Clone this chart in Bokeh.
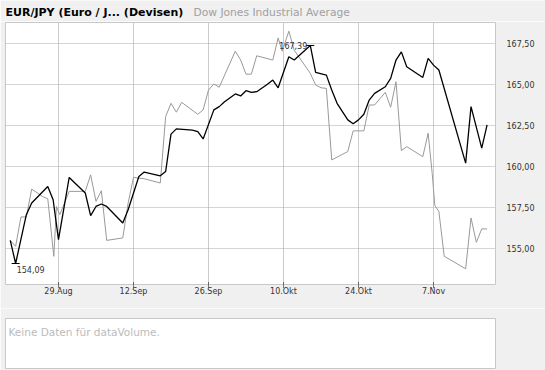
import pandas as pd
from bokeh.plotting import figure
from bokeh.models import Range1d, FixedTicker, Label
from bokeh.layouts import column
from bokeh.embed import file_html
from bokeh.resources import INLINE

# ---- data ----
eur_dates = ["2016-08-20", "2016-08-21", "2016-08-23", "2016-08-24", "2016-08-27", "2016-08-28",
             "2016-08-29", "2016-08-31", "2016-09-03", "2016-09-04", "2016-09-05", "2016-09-06",
             "2016-09-07", "2016-09-10", "2016-09-11", "2016-09-13", "2016-09-14", "2016-09-17",
             "2016-09-18", "2016-09-19", "2016-09-20", "2016-09-23", "2016-09-24", "2016-09-25",
             "2016-09-27", "2016-09-28", "2016-09-29", "2016-10-01", "2016-10-02", "2016-10-03",
             "2016-10-04", "2016-10-05", "2016-10-07", "2016-10-08", "2016-10-09", "2016-10-11",
             "2016-10-12", "2016-10-15", "2016-10-16", "2016-10-18", "2016-10-19", "2016-10-20",
             "2016-10-22", "2016-10-23", "2016-10-24", "2016-10-25", "2016-10-26", "2016-10-27",
             "2016-10-29", "2016-10-30", "2016-10-31", "2016-11-01", "2016-11-02", "2016-11-05",
             "2016-11-06", "2016-11-07", "2016-11-08", "2016-11-13", "2016-11-14", "2016-11-16",
             "2016-11-17"]
eur_values = [155.50, 154.09, 157.07, 157.78, 158.79, 157.98,
              155.55, 159.34, 158.39, 157.01, 157.57, 157.72,
              157.57, 156.56, 157.37, 159.40, 159.67, 159.44,
              159.70, 161.98, 162.30, 162.22, 162.14, 161.69,
              163.46, 163.66, 163.96, 164.43, 164.31, 164.63,
              164.53, 164.57, 165.02, 165.28, 164.81, 166.70,
              166.50, 167.39, 165.75, 165.58, 164.67, 163.86,
              162.85, 162.62, 162.85, 163.19, 164.06, 164.47,
              164.87, 165.38, 166.50, 167.00, 166.09, 165.44,
              166.60, 166.19, 165.89, 160.21, 163.66, 161.13,
              162.54]

dji_dates = ["2016-08-20", "2016-08-21", "2016-08-22", "2016-08-23", "2016-08-24", "2016-08-26",
             "2016-08-27", "2016-08-28 03:00", "2016-08-28 15:00", "2016-08-29 06:00", "2016-08-31",
             "2016-09-03", "2016-09-04", "2016-09-05", "2016-09-06", "2016-09-07", "2016-09-10",
             "2016-09-11", "2016-09-12", "2016-09-14", "2016-09-17", "2016-09-18", "2016-09-19",
             "2016-09-20", "2016-09-21", "2016-09-24", "2016-09-25", "2016-09-26", "2016-09-27",
             "2016-09-28", "2016-10-01", "2016-10-02", "2016-10-03", "2016-10-04", "2016-10-05",
             "2016-10-08", "2016-10-09", "2016-10-09 18:00", "2016-10-11", "2016-10-12",
             "2016-10-15", "2016-10-16", "2016-10-17", "2016-10-18", "2016-10-19", "2016-10-22",
             "2016-10-23", "2016-10-25", "2016-10-26", "2016-10-27", "2016-10-29", "2016-10-30",
             "2016-10-31", "2016-11-01", "2016-11-02", "2016-11-05", "2016-11-06",
             "2016-11-06 18:00", "2016-11-07 06:00", "2016-11-08", "2016-11-09", "2016-11-13",
             "2016-11-14", "2016-11-15", "2016-11-16", "2016-11-17"]
dji_values = [155.50, 155.14, 156.93, 156.93, 158.63, 158.18,
              158.04, 154.53, 157.57, 157.07, 158.49,
              158.49, 159.50, 157.88, 158.53, 155.50, 155.65,
              157.78, 159.34, 159.26, 159.00, 163.05, 163.86,
              163.32, 163.92, 163.19, 163.46, 164.67, 165.04,
              164.84, 167.04, 166.50, 165.64, 165.64, 166.76,
              166.50, 167.85, 167.04, 168.26, 167.10,
              165.69, 164.98, 164.81, 164.77, 160.41, 160.92,
              162.18, 162.18, 163.76, 163.76, 164.53, 163.62,
              165.18, 160.98, 161.22, 160.61, 162.04,
              159.60, 157.62, 157.27, 154.53, 153.77,
              156.87, 155.38, 156.20, 156.20]

x_tick_dates = ["2016-08-29", "2016-09-12", "2016-09-26", "2016-10-10", "2016-10-24", "2016-11-07"]
x_tick_labels = ["29.Aug", "12.Sep", "26.Sep", "10.Okt", "24.Okt", "7.Nov"]
y_ticks = [155.0, 157.5, 160.0, 162.5, 165.0, 167.5]

title_main = "EUR/JPY (Euro / J... (Devisen)"
title_compare = "Dow Jones Industrial Average"
volume_msg = "Keine Daten für dataVolume."

FONT = "DejaVu Sans"
BG = "#f0f0f0"
DAY = 86400000
W = 545


def ms(s):
    return pd.Timestamp(s).value // 10**6


eur_x = [ms(d) for d in eur_dates]
dji_x = [ms(d) for d in dji_dates]
x_ticks = [ms(d) for d in x_tick_dates]

x0 = ms("2016-08-29") - 9.89 * DAY
x1 = ms("2016-08-29") + 81.57 * DAY

# ---- title strip ----
p0 = figure(frame_width=W, frame_height=21, output_backend="svg", toolbar_location=None,
            x_range=Range1d(0, W), y_range=Range1d(0, 21),
            x_axis_location=None, y_axis_location=None, min_border=0,
            min_border_left=0, min_border_right=0, min_border_top=0, min_border_bottom=0,
            background_fill_color=BG, border_fill_color=BG, outline_line_color=None)
p0.title = None
p0.grid.visible = False
p0.add_layout(Label(x=0, y=9.5, text=title_main,
                    text_font=FONT, text_font_style="bold", text_font_size="11px",
                    text_color="black", text_baseline="alphabetic"))
p0.add_layout(Label(x=188, y=9.5, text=title_compare,
                    text_font=FONT, text_font_size="10.7px",
                    text_color="#a0a0a0", text_baseline="alphabetic"))

# ---- main chart ----
p = figure(width=W, height=287, output_backend="svg", toolbar_location=None,
           x_range=Range1d(x0, x1), y_range=Range1d(152.81, 168.79),
           y_axis_location="right",
           min_border_left=5, min_border_right=50, min_border_top=1, min_border_bottom=24,
           background_fill_color="white", border_fill_color=BG,
           outline_line_color="#c8c8c8", outline_line_width=1)

p.xaxis.ticker = FixedTicker(ticks=x_ticks)
p.xaxis.major_label_overrides = {t: l for t, l in zip(x_ticks, x_tick_labels)}
p.xaxis.axis_line_color = None
p.xaxis.major_tick_in = 2
p.xaxis.major_tick_out = 3
p.xaxis.major_tick_line_color = "black"
p.xaxis.major_tick_line_dash = "1 1"
p.xaxis.minor_tick_line_color = None
p.xaxis.major_label_standoff = -1
p.xaxis.major_label_text_font = FONT
p.xaxis.major_label_text_font_size = "8px"
p.xaxis.major_label_text_color = "#333333"

p.yaxis.ticker = FixedTicker(ticks=y_ticks)
p.yaxis.major_label_overrides = {t: f"{t:.2f}".replace(".", ",") for t in y_ticks}
p.yaxis.axis_line_color = None
p.yaxis.major_tick_line_color = None
p.yaxis.minor_tick_line_color = None
p.yaxis.major_label_standoff = 5
p.yaxis.major_label_text_font = FONT
p.yaxis.major_label_text_font_size = "8px"
p.yaxis.major_label_text_color = "#333333"

p.xgrid.grid_line_color = "#cccccc"
p.ygrid.grid_line_color = "#aaaaaa"
p.ygrid.grid_line_dash = "1 1"

p.line(dji_x, dji_values, line_color="#999999", line_width=1)
p.line(eur_x, eur_values, line_color="black", line_width=1.3)

i_min = eur_values.index(min(eur_values))
i_max = eur_values.index(max(eur_values))
p.dash(x=[eur_x[i_min], eur_x[i_max]], y=[eur_values[i_min], eur_values[i_max]],
       size=8, line_color="black", line_width=1)
p.add_layout(Label(x=eur_x[i_min], y=eur_values[i_min], x_offset=1, y_offset=-2,
                   text=f"{eur_values[i_min]:.2f}".replace(".", ","), text_baseline="top",
                   text_align="left", text_font=FONT, text_font_size="8px",
                   text_color="#333333"))
p.add_layout(Label(x=eur_x[i_max], y=eur_values[i_max], x_offset=-3, y_offset=0,
                   text=f"{eur_values[i_max]:.2f}".replace(".", ","), text_baseline="alphabetic",
                   text_align="right", text_font=FONT, text_font_size="8px",
                   text_color="#333333"))

# ---- volume panel ----
p2 = figure(width=W, height=62, output_backend="svg", toolbar_location=None,
            x_range=Range1d(0, 1), y_range=Range1d(0, 1),
            x_axis_location=None, y_axis_location=None,
            min_border_left=5, min_border_right=50, min_border_top=10, min_border_bottom=2,
            background_fill_color="white", border_fill_color=BG,
            outline_line_color="#c8c8c8", outline_line_width=1)
p2.grid.visible = False
p2.add_layout(Label(x=3, y=37, x_units="screen", y_units="screen", text=volume_msg,
                    text_font=FONT, text_font_size="10.5px", text_color="#bbbbbb",
                    text_baseline="alphabetic"))

layout = column(p0, p, p2)
open("out.html", "w").write(file_html(layout, INLINE))
